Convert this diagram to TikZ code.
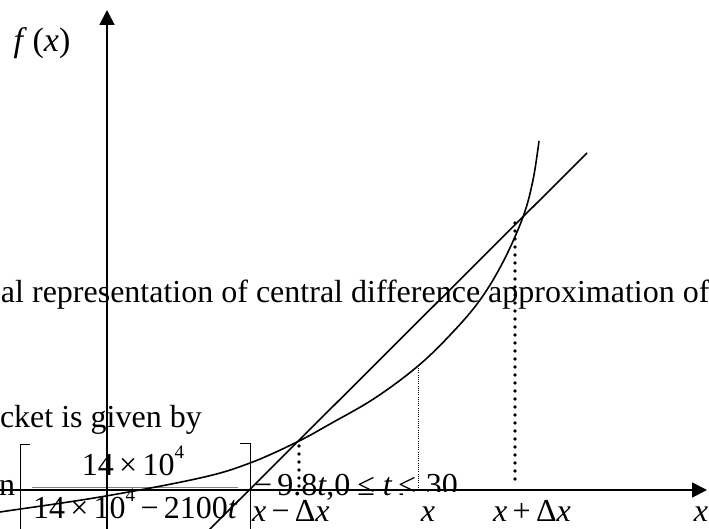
\documentclass[tikz,border=0pt]{standalone}
\usepackage{fontspec}
\setmainfont{Liberation Serif}
\usetikzlibrary{arrows.meta}
\newcommand{\supfour}{\raisebox{17pt}{\fontsize{19}{19}\selectfont 4}}
\begin{document}
\begin{tikzpicture}[x=1pt,y=-1pt,
  txt/.style={inner sep=0pt, outer sep=0pt, font=\fontsize{32}{38}\selectfont},
  axisline/.style={line width=1.8pt, -{Triangle[length=15pt,width=15pt]}},
  curveline/.style={line width=1.6pt},
  bigdots/.style={line width=3.6pt, line cap=round, dash pattern=on 0pt off 8pt},
  smalldots/.style={line width=1pt, dash pattern=on 1pt off 1.2pt},
  brk/.style={line width=1pt}]
\useasboundingbox (0,0) rectangle (709,529);
\clip (0,0) rectangle (709,529);
% page text behind the figure
\node[txt, anchor=base west] (t1) at (1,302) {al representation of central difference approximation of};
\node[txt, anchor=base west] (t2) at (0,427) {cket is given by};
\node[txt, anchor=base west] (eqn) at (-1,495) {n};
\draw[brk] (30,444) -- (20,444) -- (20,560);
\draw[brk] (240,443) -- (250,443) -- (250,560);
\node[txt, anchor=base] (num) at (133,475) {14\,×\,10\supfour};
\draw[line width=1.6pt, gray] (32,487.5) -- (238,487.5);
\node[txt, anchor=base west] (den) at (33,518) {14\,×\,10\supfour\,−\,2100\textit{t}};
\node[txt, anchor=base west] (rest) at (254,495) {−\,9.8\textit{t},0\hspace{7pt}≤\hspace{8pt}\textit{t}\hspace{6pt}≤\hspace{10pt}30};
\fill[white] (403,491.8) rectangle (466,529);
% axes
\draw[axisline] (107,540) -- (107,10);
\draw[axisline] (-5,490) -- (707,490);
\node[txt, font=\fontsize{34}{40}\selectfont] (fx) at (42,43) {\textit{f}\,(\textit{x})};
% curve and secant
\draw[curveline] plot[smooth, tension=0.6] coordinates {(-10,514) (0,512) (100,497) (200,478) (250,463) (297,442) (330,424) (375,398) (418,366) (452,333) (480,300) (503,262) (523,217) (533,180) (539,141)};
\draw[curveline] (587,153) -- (190,549);
% dotted ordinates
\draw[bigdots] (299,446) -- (299,488);
\draw[bigdots] (515,223) -- (515,484);
\draw[smalldots] (418,368) -- (418,489);
% labels
\node[txt, anchor=base west] (l1) at (252,521) {\textit{x}\,−\,Δ\textit{x}};
\node[txt, anchor=base] (l2) at (428,521) {\textit{x}};
\node[txt, anchor=base] (l3) at (532,521) {\textit{x}\,+\,Δ\textit{x}};
\node[txt, anchor=base east] (l4) at (708,521) {\textit{x}};
\end{tikzpicture}
\end{document}
